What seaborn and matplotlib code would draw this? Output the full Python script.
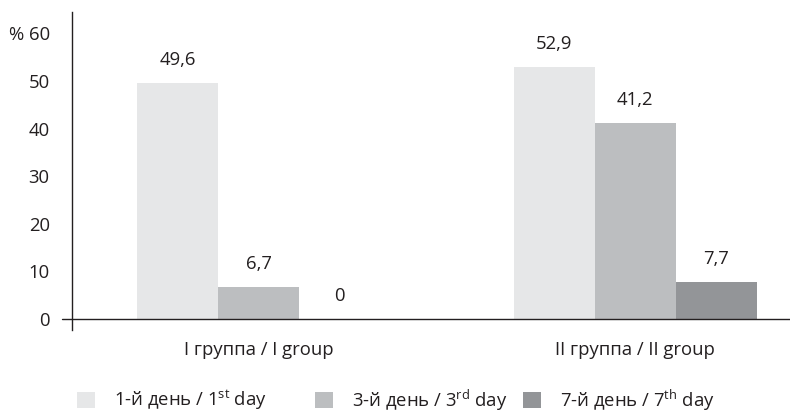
import matplotlib
matplotlib.use('Agg')
import matplotlib.pyplot as plt
import matplotlib.patches as mpatches
import pandas as pd
import seaborn as sns

# Data
groups = ['I группа / I group', 'II группа / II group']
days = ['1-й день / 1$^{\\rm st}$ day', '3-й день / 3$^{\\rm rd}$ day', '7-й день / 7$^{\\rm th}$ day']
day1 = [49.6, 52.9]
day3 = [6.7, 41.2]
day7 = [0.0, 7.7]
y_ticks = [0, 10, 20, 30, 40, 50, 60]
y_tick_labels = ['0', '10', '20', '30', '40', '50', '% 60']

colors = ['#e6e7e8', '#bcbec0', '#939598']
text_color = '#231f20'
fs = 13.3

df = pd.DataFrame({
    'group': groups * 3,
    'day': [days[0]] * 2 + [days[1]] * 2 + [days[2]] * 2,
    'value': day1 + day3 + day7,
})

sns.set_style('white')
plt.rcParams['font.family'] = ['Open Sans', 'DejaVu Sans']
plt.rcParams['mathtext.fontset'] = 'custom'
plt.rcParams['mathtext.rm'] = 'Open Sans'
plt.rcParams['text.color'] = text_color

fig, ax = plt.subplots(figsize=(7.9, 4.13), dpi=100)
fig.subplots_adjust(left=72 / 790, right=1.0, top=1 - 12 / 413, bottom=1 - 330 / 413)

sns.barplot(data=df, x='group', y='value', hue='day', palette=colors,
            width=0.646, gap=0, saturation=1, linewidth=0, ax=ax, legend=False)

# value labels with decimal comma
for container in ax.containers:
    labels = [f'{v:.1f}'.replace('.', ',') if v != 0 else '0' for v in container.datavalues]
    ax.bar_label(container, labels=labels, padding=10, fontsize=fs, color=text_color)

ax.set_xlim(-0.497, 1.412)
ax.set_ylim(-2.31, 64.5)
ax.set_yticks(y_ticks)
ax.set_yticklabels(y_tick_labels)
ax.tick_params(axis='y', length=0, pad=16, labelsize=fs, labelcolor=text_color)
ax.tick_params(axis='x', length=0, pad=8, labelsize=fs, labelcolor=text_color)
ax.set_xlabel('')
ax.set_ylabel('')

for side in ['top', 'right', 'bottom']:
    ax.spines[side].set_visible(False)
ax.spines['left'].set_color(text_color)
ax.spines['left'].set_linewidth(1)
ax.axhline(0, xmin=-10 / 718, xmax=1, color=text_color, lw=1, clip_on=False)

# legend entries placed individually like the reference
legend_x = [77 / 790, 315 / 790, 523 / 790]
for lx, lab, col in zip(legend_x, days, colors):
    h = mpatches.Patch(facecolor=col, edgecolor='none')
    fig.legend([h], [lab], loc='center left', bbox_to_anchor=(lx, 1 - 400 / 413),
               frameon=False, fontsize=fs, handlelength=0.97, handleheight=0.97,
               handletextpad=1.05, borderpad=0, borderaxespad=0)

fig.savefig('out.png', dpi=100)
